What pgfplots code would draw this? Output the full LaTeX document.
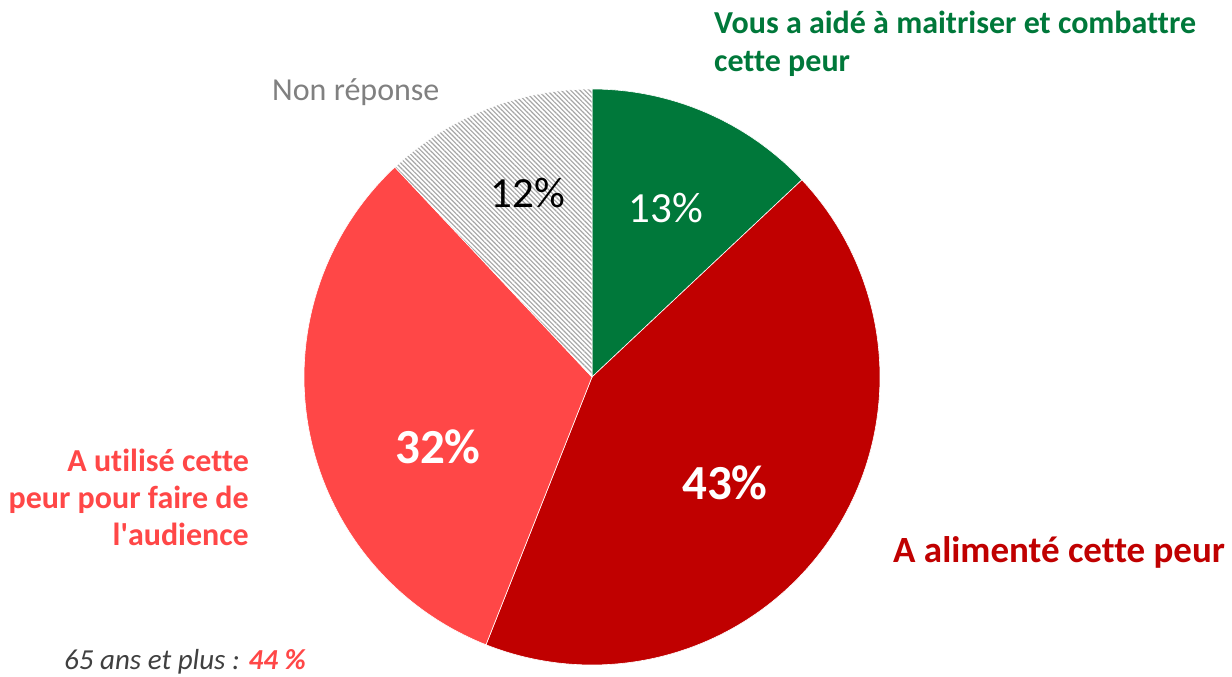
\documentclass[border=0pt]{standalone}
\usepackage{pgfplots}
\pgfplotsset{compat=1.18}
\usepackage{pgfplotstable}
\usetikzlibrary{patterns.meta}
\usepackage{fontspec}
\setmainfont{Carlito}[Ligatures={NoCommon}]
\definecolor{cgreen}{RGB}{0,120,58}
\definecolor{cdark}{RGB}{192,0,0}
\definecolor{clight}{RGB}{255,71,71}
\definecolor{cgraytxt}{RGB}{128,128,128}
\definecolor{citxt}{RGB}{64,64,64}

\pgfplotstableread{
label value
aide 13
alimente 43
utilise 32
nonrep 12
}\piedata

\begin{document}%
\begin{tikzpicture}
\pgfplotstablegetelem{0}{value}\of\piedata \let\va\pgfplotsretval
\pgfplotstablegetelem{1}{value}\of\piedata \let\vb\pgfplotsretval
\pgfplotstablegetelem{2}{value}\of\piedata \let\vc\pgfplotsretval
\pgfplotstablegetelem{3}{value}\of\piedata \let\vd\pgfplotsretval
\pgfmathsetmacro{\aA}{90}
\pgfmathsetmacro{\aB}{\aA-3.6*\va}
\pgfmathsetmacro{\aC}{\aB-3.6*\vb}
\pgfmathsetmacro{\aD}{\aC-3.6*\vc}
\pgfmathsetmacro{\aE}{\aD-3.6*\vd}
\begin{axis}[scale only axis, width=1232pt, height=677pt,
  xmin=0, xmax=1232, ymin=0, ymax=677, hide axis, clip=false,
  at={(0,0)}, anchor=south west]
\addplot[fill=cgreen, draw=white, line width=0.6pt, domain=\aB:\aA, samples=80, variable=\t]
  ({592+288*cos(\t)},{300+288*sin(\t)}) -- (axis cs:592,300) -- cycle;
\addplot[fill=cdark, draw=white, line width=0.6pt, domain=\aC:\aB, samples=150, variable=\t]
  ({592+288*cos(\t)},{300+288*sin(\t)}) -- (axis cs:592,300) -- cycle;
\addplot[fill=clight, draw=white, line width=0.6pt, domain=\aD:\aC, samples=120, variable=\t]
  ({592+288*cos(\t)},{300+288*sin(\t)}) -- (axis cs:592,300) -- cycle;
\addplot[pattern={Lines[angle=-45,distance=3.3pt,line width=1.2pt]}, pattern color=gray!70, draw=white, line width=0.6pt, domain=\aE:\aD, samples=60, variable=\t]
  ({592+288*cos(\t)},{300+288*sin(\t)}) -- (axis cs:592,300) -- cycle;

\node[text=white, font=\fontsize{43}{50}\selectfont, inner sep=0] at (axis cs:666,469) {\va\%};
\node[text=black, font=\fontsize{43}{50}\selectfont, inner sep=0] at (axis cs:528,484) {\vd\%};
\node[text=white, font=\bfseries\fontsize{49}{58}\selectfont, inner sep=0] at (axis cs:438,230) {\vc\%};
\node[text=white, font=\bfseries\fontsize{49}{58}\selectfont, inner sep=0] at (axis cs:725,194) {\vb\%};

\node[text=cgreen, font=\bfseries\fontsize{32}{38}\selectfont, align=left, anchor=west, inner sep=0] at (axis cs:714,633) {Vous a aidé à maitriser et combattre\\cette peur};
\node[text=cdark, font=\bfseries\fontsize{37}{44}\selectfont, anchor=west, inner sep=0] at (axis cs:893,125) {A alimenté cette peur};
\node[text=clight, font=\bfseries\fontsize{32}{37}\selectfont, align=right, anchor=east, inner sep=0] at (axis cs:249,180) {A utilisé cette\\peur pour faire de\\l\textquotesingle audience};
\node[text=cgraytxt, font=\fontsize{32}{38}\selectfont, anchor=west, inner sep=0] at (axis cs:272,585) {Non réponse};
\node[text=citxt, font=\itshape\fontsize{29}{34}\selectfont, anchor=west, inner sep=0] at (axis cs:64,15) {65 ans et plus : \textcolor{clight}{\bfseries\itshape 44 \%}};
\end{axis}
\pgfresetboundingbox
\path (0,0) rectangle (1232pt,677pt);
\end{tikzpicture}%
\end{document}
